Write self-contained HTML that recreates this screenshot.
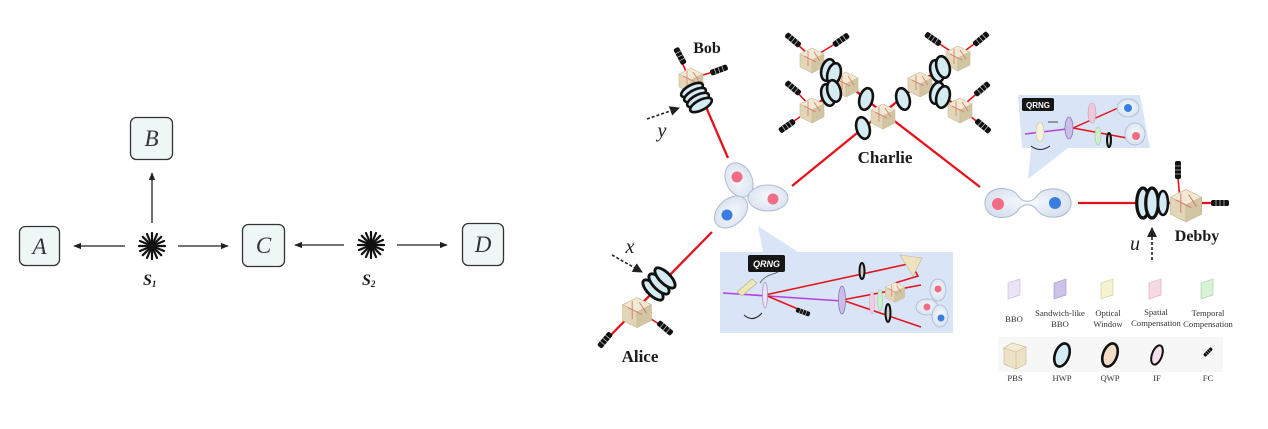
<!DOCTYPE html>
<html><head><meta charset="utf-8"><style>
html,body{margin:0;padding:0;background:#fff;}
svg{display:block;}
.lt{font-family:"Liberation Serif",serif;font-style:italic;fill:#333;}
.nm{font-family:"Liberation Serif",serif;font-weight:bold;fill:#1a1a1a;}
.lg{font-family:"Liberation Serif",serif;fill:#333;font-size:8.6px;text-anchor:middle;}
</style></head><body>
<svg width="1268" height="429" viewBox="0 0 1268 429" xmlns="http://www.w3.org/2000/svg">
<defs>
<marker id="ah" viewBox="0 0 10 10" refX="9" refY="5" markerWidth="8" markerHeight="8" orient="auto" markerUnits="userSpaceOnUse">
<path d="M0,1 L10,5 L0,9 z" fill="#231f20"/></marker>
<marker id="ah2" viewBox="0 0 10 10" refX="9" refY="5" markerWidth="10" markerHeight="10" orient="auto" markerUnits="userSpaceOnUse">
<path d="M0,0 L10,5 L0,10 z" fill="#222"/></marker>
<g id="cube">
<polygon points="0,-12 12,-6 0,0 -12,-6" fill="#f1e9d3" stroke="#c9bb98" stroke-width="0.6"/>
<polygon points="-12,-6 0,0 0,13 -12,7" fill="#e2d6b8" stroke="#c9bb98" stroke-width="0.6"/>
<polygon points="0,0 12,-6 12,7 0,13" fill="#d2c5a2" stroke="#c9bb98" stroke-width="0.6"/>
<path d="M-8,-4 L4,2 M-4,-9 L-4,6 M2,-8 L8,1" stroke="#d97a6a" stroke-width="0.8" fill="none"/>
</g>
<g id="fc">
<rect x="-9" y="-3" width="18" height="6" rx="2" fill="#111"/>
<path d="M-4,-3 L-4,3 M0,-3 L0,3 M4,-3 L4,3" stroke="#bbb" stroke-width="0.8"/>
</g>
<g id="wp">
<ellipse cx="0" cy="0" rx="5" ry="12" fill="#d4ebf2" stroke="#111" stroke-width="2.6"/>
</g>
<g id="wp2">
<ellipse cx="0" cy="0" rx="6.5" ry="11" fill="#d4ebf2" stroke="#111" stroke-width="2.6"/>
</g>
<radialGradient id="lobe" cx="50%" cy="45%" r="60%">
<stop offset="0" stop-color="#f6f9fd"/><stop offset="1" stop-color="#d6e0ee"/></radialGradient>
</defs>

<!-- LEFT DIAGRAM -->
<g stroke="#333" stroke-width="1.3" fill="#eef6f6">
<rect x="19.5" y="226.5" width="40" height="39" rx="6"/>
<rect x="130.5" y="117.5" width="42" height="42" rx="6"/>
<rect x="242.5" y="224.5" width="42" height="42" rx="6"/>
<rect x="462.5" y="223.5" width="41" height="42" rx="6"/>
</g>
<text class="lt" x="39.5" y="254" font-size="23" text-anchor="middle">A</text>
<text class="lt" x="151.5" y="146" font-size="23" text-anchor="middle">B</text>
<text class="lt" x="263.5" y="253" font-size="23" text-anchor="middle">C</text>
<text class="lt" x="483" y="252" font-size="23" text-anchor="middle">D</text>
<g stroke="#231f20" stroke-width="1.3">
<line x1="125" y1="246" x2="74" y2="246" marker-end="url(#ah)"/>
<line x1="152" y1="223" x2="152" y2="173" marker-end="url(#ah)"/>
<line x1="178" y1="246" x2="228" y2="246" marker-end="url(#ah)"/>
<line x1="344" y1="245" x2="295" y2="245" marker-end="url(#ah)"/>
<line x1="397" y1="245" x2="447" y2="245" marker-end="url(#ah)"/>
</g>
<g stroke="#111" stroke-width="2.2" stroke-linecap="round">
<g transform="translate(152,246)">
<line x1="-13" y1="0" x2="13" y2="0"/><line x1="0" y1="-13" x2="0" y2="13"/>
<line x1="-9.2" y1="-9.2" x2="9.2" y2="9.2"/><line x1="-9.2" y1="9.2" x2="9.2" y2="-9.2"/>
<line x1="-12" y1="-5" x2="12" y2="5"/><line x1="-12" y1="5" x2="12" y2="-5"/>
<line x1="-5" y1="-12" x2="5" y2="12"/><line x1="5" y1="-12" x2="-5" y2="12"/>
</g>
<g transform="translate(371,245)">
<line x1="-13" y1="0" x2="13" y2="0"/><line x1="0" y1="-13" x2="0" y2="13"/>
<line x1="-9.2" y1="-9.2" x2="9.2" y2="9.2"/><line x1="-9.2" y1="9.2" x2="9.2" y2="-9.2"/>
<line x1="-12" y1="-5" x2="12" y2="5"/><line x1="-12" y1="5" x2="12" y2="-5"/>
<line x1="-5" y1="-12" x2="5" y2="12"/><line x1="5" y1="-12" x2="-5" y2="12"/>
</g>
</g>
<text class="nm" x="143" y="285" font-size="16" font-style="italic">S<tspan font-size="9" dy="2">1</tspan></text>
<text class="nm" x="362" y="285" font-size="16" font-style="italic">S<tspan font-size="9" dy="2">2</tspan></text>

<!-- RIGHT: blue panels -->
<polygon points="720,252 763,252 758,226 798,252 953,252 953,333 720,333" fill="#d9e5f7"/>
<polygon points="1018,95 1140,95 1150,148 1068,148 1028,179 1031,148 1022,148" fill="#d9e5f7"/>

<!-- legend background -->
<rect x="998" y="337" width="225" height="35" fill="#f7f7f7"/>

<!-- main red beams -->
<g stroke="#e5121b" stroke-width="2.3" fill="none">
<line x1="703" y1="100" x2="728" y2="158"/>
<line x1="792" y1="186" x2="878" y2="116"/>
<line x1="888" y1="116" x2="980" y2="187"/>
<line x1="1078" y1="203" x2="1228" y2="203"/>
<line x1="712" y1="232" x2="605" y2="341"/>
<line x1="883" y1="113" x2="845" y2="82"/>
<line x1="845" y1="82" x2="812" y2="58"/>
<line x1="845" y1="82" x2="812" y2="108"/>
<line x1="883" y1="113" x2="921" y2="82"/>
<line x1="921" y1="82" x2="958" y2="56"/>
<line x1="921" y1="82" x2="960" y2="108"/>
</g>
<g stroke="#e5121b" stroke-width="1.6" fill="none">
<line x1="812" y1="58" x2="795" y2="42"/><line x1="812" y1="58" x2="838" y2="42"/>
<line x1="812" y1="108" x2="795" y2="90"/><line x1="812" y1="108" x2="790" y2="124"/>
<line x1="958" y1="56" x2="935" y2="41"/><line x1="958" y1="56" x2="978" y2="41"/>
<line x1="960" y1="108" x2="980" y2="91"/><line x1="960" y1="108" x2="980" y2="124"/>
<line x1="693" y1="78" x2="713" y2="72"/><line x1="688" y1="76" x2="681" y2="60"/>
<line x1="1180" y1="200" x2="1178" y2="178"/>
<line x1="637" y1="310" x2="662" y2="326"/>
</g>

<!-- Charlie cubes -->
<use href="#cube" transform="translate(812,60)"/>
<use href="#cube" transform="translate(846,84)"/>
<use href="#cube" transform="translate(812,110)"/>
<use href="#cube" transform="translate(883,116)"/>
<use href="#cube" transform="translate(920,84)"/>
<use href="#cube" transform="translate(958,58)"/>
<use href="#cube" transform="translate(960,110)"/>
<!-- Charlie FCs -->
<use href="#fc" transform="translate(793,40) rotate(40)"/>
<use href="#fc" transform="translate(841,40) rotate(-35)"/>
<use href="#fc" transform="translate(793,88) rotate(40)"/>
<use href="#fc" transform="translate(787,126) rotate(-35)"/>
<use href="#fc" transform="translate(933,39) rotate(35)"/>
<use href="#fc" transform="translate(981,39) rotate(-40)"/>
<use href="#fc" transform="translate(982,89) rotate(-40)"/>
<use href="#fc" transform="translate(983,126) rotate(40)"/>
<!-- Charlie waveplates -->
<use href="#wp2" transform="translate(828,70) rotate(15)"/>
<use href="#wp2" transform="translate(834,74) rotate(15)"/>
<use href="#wp2" transform="translate(828,95) rotate(-15)"/>
<use href="#wp2" transform="translate(834,91) rotate(-15)"/>
<use href="#wp2" transform="translate(866,99) rotate(15)"/>
<use href="#wp2" transform="translate(903,99) rotate(-15)"/>
<use href="#wp2" transform="translate(937,71) rotate(-15)"/>
<use href="#wp2" transform="translate(943,67) rotate(-15)"/>
<use href="#wp2" transform="translate(937,93) rotate(15)"/>
<use href="#wp2" transform="translate(943,97) rotate(15)"/>
<use href="#wp2" transform="translate(863,128) rotate(-15)"/>
<text class="nm" x="885" y="163" font-size="17" text-anchor="middle">Charlie</text>

<!-- Bob -->
<use href="#cube" transform="translate(691,80)"/>
<use href="#fc" transform="translate(680,56) rotate(62)"/>
<use href="#fc" transform="translate(719,70) rotate(-20)"/>
<use href="#wp" transform="translate(692,90) rotate(62)"/>
<use href="#wp" transform="translate(695,95) rotate(62)"/>
<use href="#wp" transform="translate(698,100) rotate(62)"/>
<use href="#wp" transform="translate(701,105) rotate(62)"/>
<text class="nm" x="707" y="53" font-size="16" text-anchor="middle">Bob</text>
<line x1="647" y1="119" x2="679" y2="108" stroke="#222" stroke-width="1.6" stroke-dasharray="3,2" marker-end="url(#ah2)"/>
<text class="lt" x="662" y="137" font-size="20" text-anchor="middle" style="fill:#222">y</text>

<!-- three-lobe -->
<g stroke="#a9b8cf" stroke-width="1" fill="url(#lobe)" opacity="0.95">
<ellipse cx="739" cy="180" rx="18" ry="13" transform="rotate(-116 739 180)"/>
<ellipse cx="768" cy="198" rx="20" ry="13"/>
<ellipse cx="731" cy="212" rx="19" ry="13" transform="rotate(138 731 212)"/>
</g>
<circle cx="737" cy="177" r="5.5" fill="#f26c86"/>
<circle cx="773" cy="199" r="5.5" fill="#f26c86"/>
<circle cx="727" cy="215" r="5.5" fill="#3a7fe0"/>

<!-- dumbbell -->
<path d="M985,203 C985,185 1012,185 1018,196 C1023,203 1032,203 1037,196 C1044,185 1071,186 1071,203 C1071,220 1044,221 1037,210 C1032,203 1023,203 1018,210 C1012,221 985,221 985,203 Z" fill="url(#lobe)" stroke="#a9b8cf" stroke-width="1"/>
<circle cx="998" cy="204" r="6" fill="#f26c86"/>
<circle cx="1055" cy="203" r="6" fill="#3a7fe0"/>

<!-- Debby -->
<use href="#wp" transform="translate(1143,203) scale(1.25)"/>
<use href="#wp" transform="translate(1152,203) scale(1.25)"/>
<use href="#wp" transform="translate(1163,203) scale(1.0)"/>
<use href="#cube" transform="translate(1186,205) scale(1.3)"/>
<use href="#fc" transform="translate(1178,170) rotate(90)"/>
<use href="#fc" transform="translate(1220,203)"/>
<text class="nm" x="1197" y="241" font-size="16" text-anchor="middle">Debby</text>
<line x1="1152" y1="260" x2="1152" y2="228" stroke="#222" stroke-width="1.6" stroke-dasharray="3,2" marker-end="url(#ah2)"/>
<text class="lt" x="1135" y="250" font-size="20" text-anchor="middle" style="fill:#222">u</text>

<!-- Alice -->
<use href="#cube" transform="translate(637,312) scale(1.2)"/>
<use href="#wp" transform="translate(653,290) rotate(-45) scale(1.1)"/>
<use href="#wp" transform="translate(659,284) rotate(-45) scale(1.1)"/>
<use href="#wp" transform="translate(665,278) rotate(-45) scale(1.1)"/>
<use href="#fc" transform="translate(605,340) rotate(-50)"/>
<use href="#fc" transform="translate(665,328) rotate(40)"/>
<text class="nm" x="640" y="362" font-size="17" text-anchor="middle">Alice</text>
<line x1="612" y1="255" x2="642" y2="272" stroke="#222" stroke-width="1.6" stroke-dasharray="3,2" marker-end="url(#ah2)"/>
<text class="lt" x="630" y="253" font-size="20" text-anchor="middle" style="fill:#222">x</text>

<!-- bottom panel internals -->
<rect x="748" y="255" width="37" height="17" rx="2" fill="#161616"/>
<text x="766.5" y="267" font-family="Liberation Sans,sans-serif" font-style="italic" font-weight="bold" font-size="9" fill="#fff" text-anchor="middle">QRNG</text>
<path d="M760,283 C765,275 772,275 778,272" stroke="#555" stroke-width="0.8" fill="none"/>
<line x1="723" y1="293" x2="842" y2="301" stroke="#b040e0" stroke-width="1.6"/>
<g stroke="#e5121b" stroke-width="1.6" fill="none">
<line x1="765" y1="295" x2="908" y2="264"/>
<line x1="765" y1="295" x2="805" y2="312"/>
<line x1="842" y1="300" x2="921" y2="285"/>
<line x1="842" y1="300" x2="921" y2="327"/>
<path d="M910,262 L918,276 L895,283 L898,298"/>
</g>
<polygon points="737,292 752,279 757,283 742,296" fill="#ece6b8" stroke="#b8ae7a" stroke-width="0.6"/>
<path d="M744,315 Q753,323 762,313" stroke="#222" stroke-width="1" fill="none"/>
<ellipse cx="765" cy="295" rx="2.5" ry="13" fill="#ece4f6" stroke="#a898c8" stroke-width="0.8"/>
<ellipse cx="842" cy="300" rx="3.5" ry="14" fill="#cbbce8" stroke="#8878b8" stroke-width="0.8"/>
<use href="#fc" transform="translate(803,312) rotate(20) scale(0.8)"/>
<ellipse cx="862" cy="271" rx="2.5" ry="8" fill="#ccc" stroke="#111" stroke-width="2"/>
<ellipse cx="872" cy="303" rx="2.5" ry="11" fill="#f2cfe0" stroke="#d8a8c0" stroke-width="0.6"/>
<ellipse cx="880" cy="300" rx="2.5" ry="11" fill="#cfeecf" stroke="#9ccc9c" stroke-width="0.6"/>
<ellipse cx="888" cy="313" rx="2.5" ry="9" fill="#ccc" stroke="#111" stroke-width="2"/>
<use href="#cube" transform="translate(895,292) scale(0.8)"/>
<polygon points="900,255 922,258 913,276" fill="#efe2c0" stroke="#c8b68c" stroke-width="0.6"/>
<g stroke="#a9b8cf" stroke-width="0.8" fill="url(#lobe)">
<ellipse cx="938" cy="290" rx="8" ry="11"/>
<ellipse cx="927" cy="307" rx="11" ry="8"/>
<ellipse cx="940" cy="316" rx="8" ry="11"/>
</g>
<circle cx="938" cy="289" r="3.5" fill="#f26c86"/>
<circle cx="927" cy="307" r="3.5" fill="#f26c86"/>
<circle cx="941" cy="318" r="3.5" fill="#3a7fe0"/>

<!-- top-right panel internals -->
<rect x="1022" y="98" width="32" height="13" rx="2" fill="#161616"/>
<text x="1038" y="108" font-family="Liberation Sans,sans-serif" font-weight="bold" font-size="8" fill="#fff" text-anchor="middle">QRNG</text>
<line x1="1025" y1="134" x2="1075" y2="128" stroke="#b040e0" stroke-width="1.5"/>
<g stroke="#e5121b" stroke-width="1.5" fill="none">
<line x1="1073" y1="128" x2="1118" y2="108"/>
<line x1="1073" y1="128" x2="1127" y2="138"/>
</g>
<ellipse cx="1040" cy="132" rx="4" ry="10" fill="#f4f2dc" stroke="#c8c090" stroke-width="0.6"/>
<path d="M1031,146 Q1040,153 1050,146" stroke="#222" stroke-width="1" fill="none"/>
<line x1="1058" y1="122" x2="1048" y2="122" stroke="#222" stroke-width="0.8"/>
<ellipse cx="1069" cy="128" rx="4" ry="11" fill="#cbbce8" stroke="#8878b8" stroke-width="0.8"/>
<ellipse cx="1092" cy="113" rx="4" ry="10" fill="#f0c8da" stroke="#c09ab0" stroke-width="0.6"/>
<ellipse cx="1098" cy="136" rx="3" ry="9" fill="#cfeecf" stroke="#9ccc9c" stroke-width="0.6"/>
<ellipse cx="1109" cy="140" rx="2" ry="7" fill="#ccc" stroke="#111" stroke-width="2"/>
<g stroke="#a9b8cf" stroke-width="0.8" fill="url(#lobe)">
<ellipse cx="1128" cy="108" rx="11" ry="9"/>
<ellipse cx="1135" cy="134" rx="10" ry="11"/>
</g>
<circle cx="1128" cy="108" r="4" fill="#3a7fe0"/>
<circle cx="1136" cy="136" r="4" fill="#f26c86"/>

<!-- legend -->
<g stroke-width="0.6">
<polygon points="1008,283 1020,279 1020,295 1008,299" fill="#ebe4f7" stroke="#c4b8dc"/>
<polygon points="1054,283 1066,279 1066,295 1054,299" fill="#cdc3e8" stroke="#9d90c4"/>
<polygon points="1101,283 1113,279 1113,295 1101,299" fill="#f5f3cf" stroke="#cdc89a"/>
<polygon points="1149,283 1161,279 1161,295 1149,299" fill="#f7d9e4" stroke="#d8a8bc"/>
<polygon points="1201,283 1213,279 1213,295 1201,299" fill="#d8f2d6" stroke="#a4cca0"/>
</g>
<text class="lg" x="1014" y="322">BBO</text>
<text class="lg" x="1060" y="316">Sandwich-like</text>
<text class="lg" x="1060" y="327">BBO</text>
<text class="lg" x="1108" y="316">Optical</text>
<text class="lg" x="1108" y="327">Window</text>
<text class="lg" x="1156" y="315">Spatial</text>
<text class="lg" x="1156" y="326">Compensation</text>
<text class="lg" x="1208" y="316">Temporal</text>
<text class="lg" x="1208" y="327">Compensation</text>
<g transform="translate(1014,356)">
<polygon points="-10,-8 -2,-13 12,-9 12,8 2,13 -10,8" fill="#ece3c6" stroke="#c7b892" stroke-width="0.6"/>
<polygon points="-10,-8 -2,-13 12,-9 2,-4" fill="#f3ecd6" stroke="#c7b892" stroke-width="0.6"/>
<line x1="2" y1="-4" x2="2" y2="13" stroke="#c7b892" stroke-width="0.6"/>
</g>
<ellipse cx="1062" cy="355" rx="7" ry="12" transform="rotate(20 1062 355)" fill="#d3edf6" stroke="#111" stroke-width="2.6"/>
<ellipse cx="1110" cy="355" rx="7" ry="12" transform="rotate(20 1110 355)" fill="#f5dcc6" stroke="#111" stroke-width="2.6"/>
<ellipse cx="1157" cy="355" rx="5" ry="10" transform="rotate(20 1157 355)" fill="#f3e1f0" stroke="#111" stroke-width="2"/>
<use href="#fc" transform="translate(1208,352) rotate(-45) scale(0.6)"/>
<text class="lg" x="1015" y="381">PBS</text>
<text class="lg" x="1062" y="381">HWP</text>
<text class="lg" x="1110" y="381">QWP</text>
<text class="lg" x="1157" y="381">IF</text>
<text class="lg" x="1208" y="381">FC</text>
</svg>
</body></html>
